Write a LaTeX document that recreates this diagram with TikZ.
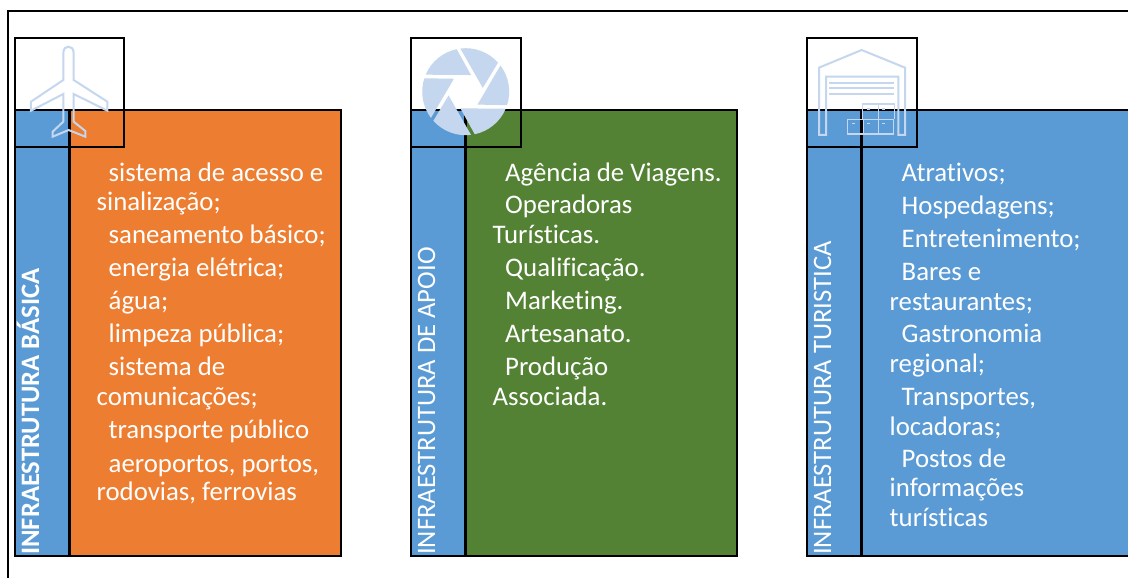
\documentclass[tikz,border=0pt]{standalone}
\usepackage{fontspec}
\setmainfont[Ligatures=NoCommon]{Carlito}
\definecolor{blueB}{HTML}{5B9BD5}
\definecolor{orangeB}{HTML}{ED7D31}
\definecolor{greenB}{HTML}{548235}
\definecolor{iconC}{HTML}{C5D7EE}
\tikzset{
  panel/.style={draw=black,line width=2.7pt},
  iconbox/.style={draw=black,line width=2.5pt},
  bodytext/.style={text=white,font=\fontsize{26.8}{30}\selectfont,anchor=base west,inner sep=0pt},
  sidetext/.style={text=white,font=\fontsize{26.6}{30}\selectfont,rotate=90,anchor=base west,inner sep=0pt},
  iconline/.style={draw=iconC,line width=2pt,line join=miter},
  iconthin/.style={draw=iconC,line width=1.6pt}
}
\newcommand{\tl}[4]{\node[bodytext] (#1) at (#2,#3) {#4};}
\begin{document}
\begin{tikzpicture}[x=1pt,y=-1pt]
\useasboundingbox (0,0) rectangle (1128,578);
\fill[white] (0,0) rectangle (1128,578);
% outer frame
\draw[black,line width=2pt] (7.5,578) -- (7.5,11) -- (1128,11);
% panels
\fill[blueB] (15,110) rectangle (69.5,556);
\fill[orangeB] (69.5,110) rectangle (341,556);
\draw[panel] (15,110) rectangle (341,556);
\draw[panel] (69.5,110) -- (69.5,556);
\fill[blueB] (411,110) rectangle (465.5,556);
\fill[greenB] (465.5,110) rectangle (737,556);
\draw[panel] (411,110) rectangle (737,556);
\draw[panel] (465.5,110) -- (465.5,556);
\fill[blueB] (807,110) rectangle (1128,556);
\draw[panel] (1128,110) -- (807,110) -- (807,556) -- (1128,556);
\draw[panel] (861.5,110) -- (861.5,556);
% icon boxes
\draw[iconbox] (15,38) rectangle (124,147);
\draw[iconbox] (411,38) rectangle (521,147);
\draw[iconbox] (807,38) rectangle (917,147);
% side labels
\node[sidetext,font=\fontsize{26.6}{30}\bfseries\selectfont] (s1) at (39,555) {INFRAESTRUTURA BÁSICA};
\node[sidetext] (s2) at (435,555) {INFRAESTRUTURA DE APOIO};
\node[sidetext] (s3) at (831,555) {INFRAESTRUTURA TURISTICA};
% column 1
\tl{a1}{108.5}{181.5}{sistema de acesso e}
\tl{a2}{96.5}{210.5}{sinalização;}
\tl{a3}{108.5}{243.5}{saneamento básico;}
\tl{a4}{108.5}{276}{energia elétrica;}
\tl{a5}{108.5}{309}{água;}
\tl{a6}{108.5}{342}{limpeza pública;}
\tl{a7}{108.5}{375}{sistema de}
\tl{a8}{96.5}{405}{comunicações;}
\tl{a9}{108.5}{438.5}{transporte público}
\tl{a10}{108.5}{472.5}{aeroportos, portos,}
\tl{a11}{96.5}{500.5}{rodovias, ferrovias}
% column 2
\tl{b1}{505}{181.5}{Agência de Viagens.}
\tl{b2}{505}{213.5}{Operadoras}
\tl{b3}{492.5}{243.5}{Turísticas.}
\tl{b4}{505}{276}{Qualificação.}
\tl{b5}{505}{309.5}{Marketing.}
\tl{b6}{505}{342}{Artesanato.}
\tl{b7}{505}{375}{Produção}
\tl{b8}{492.5}{405}{Associada.}
% column 3
\tl{c1}{901.5}{181.5}{Atrativos;}
\tl{c2}{901.5}{214}{Hospedagens;}
\tl{c3}{901.5}{247}{Entretenimento;}
\tl{c4}{901.5}{280}{Bares e}
\tl{c5}{889.5}{310}{restaurantes;}
\tl{c6}{901.5}{342}{Gastronomia}
\tl{c7}{889.5}{372}{regional;}
\tl{c8}{901.5}{405}{Transportes,}
\tl{c9}{889.5}{435}{locadoras;}
\tl{c10}{901.5}{467}{Postos de}
\tl{c11}{889.5}{496}{informações}
\tl{c12}{889.5}{526}{turísticas}
% plane icon
\begin{scope}[scale=1/3]
\draw[iconline] (190,240) -- (190,160) .. controls (190,145) and (198,140) .. (205,140)
  .. controls (213,140) and (221,145) .. (221,160) -- (221,240) -- (322,305) -- (322,332)
  -- (221,282) -- (221,365) -- (256,393) -- (256,410) -- (206,390) -- (158,410) -- (158,395)
  -- (190,365) -- (190,282) -- (93,332) -- (93,305) -- cycle;
\end{scope}
% aperture icon
\begin{scope}[shift={(465.7,91.7)},yscale=-1]
\foreach \r in {0,60,120,180,240,300}{
  \begin{scope}[rotate=-\r]
    \fill[iconC] (157:43.5) arc[start angle=157,end angle=102,radius=43.5] -- (72.4:17.5) -- cycle;
  \end{scope}
}
\end{scope}
% warehouse icon
\begin{scope}[shift={(800,25)},scale=1/3]
\draw[iconline] (57,128) -- (185,75) -- (315,128) -- (315,330) -- (295,330) -- (295,155) -- (78,155) -- (78,330) -- (57,330) -- cycle;
\draw[iconline] (88,173) -- (283,173) (88,190) -- (283,190) (88,207) -- (283,207);
\draw[iconthin] (187,283) -- (187,237) -- (283,237) -- (283,283) (235,237) -- (235,283);
\draw[iconthin] (143,283) rectangle (280,327) (190,283) -- (190,327) (235,283) -- (235,327);
\draw[iconthin] (200,252) -- (210,252) (245,252) -- (255,252) (155,296) -- (165,296) (200,296) -- (210,296) (245,296) -- (255,296);
\end{scope}
\end{tikzpicture}
\end{document}
